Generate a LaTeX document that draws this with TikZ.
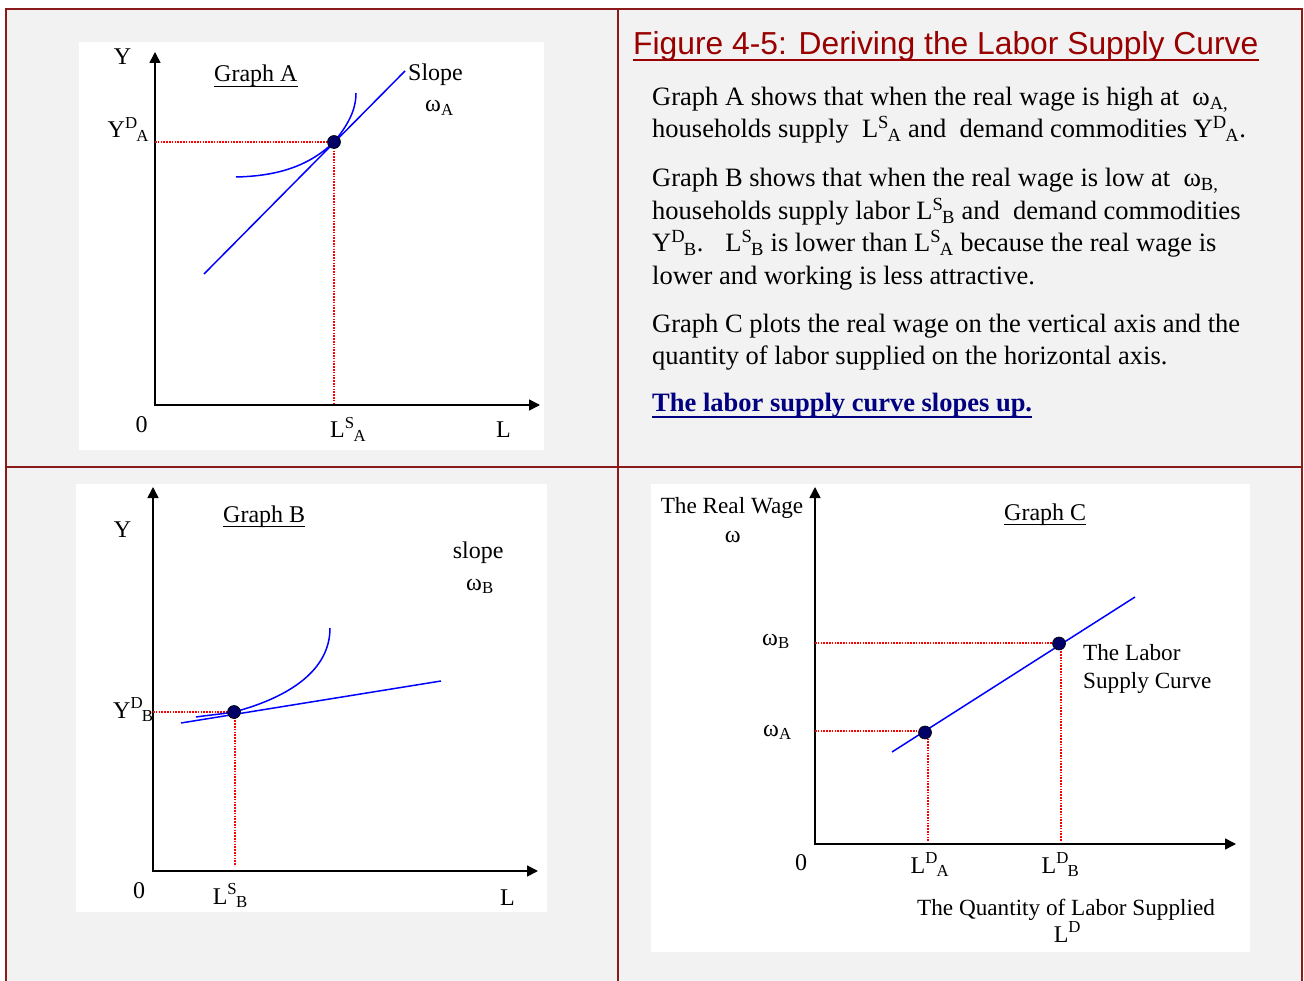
\documentclass[tikz,border=0pt]{standalone}
\usepackage{fontspec}
\setmainfont{Liberation Serif}
\newfontfamily\arialfont{Liberation Sans}
\usetikzlibrary{arrows.meta}
\definecolor{framered}{HTML}{8B1A1A}
\definecolor{panelbg}{HTML}{F2F2F2}
\definecolor{dotfill}{HTML}{000066}
\definecolor{linkblue}{HTML}{000080}
\definecolor{titlered}{HTML}{990000}
\newcommand{\supb}[2]{\textsuperscript{#1}\kern-0.05em\textsubscript{#2}}
\begin{document}
\begin{tikzpicture}[x=1pt,y=-1pt,
  gtxt/.style={font=\fontsize{24}{28}\selectfont, inner sep=0pt, anchor=base west},
  gctr/.style={font=\fontsize{24}{28}\selectfont, inner sep=0pt, anchor=base},
  body/.style={font=\fontsize{26.5}{33}\selectfont, inner sep=0pt, anchor=base west},
  axes/.style={line width=1.6pt, {Triangle[length=11pt,width=11pt]}-{Triangle[length=11pt,width=11pt]}},
  bluecurve/.style={blue, line width=1.5pt},
  guide/.style={red, line width=1.3pt, dash pattern=on 1.6pt off 1.2pt},
  eqpt/.style={circle, draw=black, fill=dotfill, minimum size=13pt, inner sep=0pt, line width=0.6pt},
  uline/.style={line width=0.9pt},
  frameline/.style={framered, line width=2.5pt},
]
\useasboundingbox (0,0) rectangle (1304,981);
\fill[white] (0,0) rectangle (1304,981);
\fill[panelbg] (6,9) rectangle (1302,981);

% ---------- Graph A ----------
\fill[white] (79,42) rectangle (544,450);
\coordinate (Aytip) at (155,52);
\coordinate (Aorig) at (155,405);
\coordinate (Axtip) at (540,405);
\coordinate (AyD) at (155,142);
\coordinate (AxS) at (334,405);
\coordinate (At1) at (204,274);
\coordinate (At2) at (405,71);
\draw[axes] (Aytip) -- (Aorig) -- (Axtip);
\draw[guide] (AyD) -- (334,142) -- (AxS);
\draw[bluecurve] (At1) -- (At2);
\draw[bluecurve] (236,177) .. controls (280,176) and (310,165) .. (334,142)
  .. controls (348,125) and (356,110) .. (356,93);
\node[eqpt] (PA1) at (334,142) {};
\node[gctr] (aY) at (122.5,65) {Y};
\node[gtxt] (aG) at (214,82) {Graph A};
\draw[uline] ([yshift=-4pt]aG.base west) -- ([yshift=-4pt]aG.base east);
\node[gtxt] (aSl) at (408,81) {Slope};
\node[gtxt] (aW) at (425,112) {ω\textsubscript{A}};
\node[gtxt] (aYD) at (107.5,138) {Y\supb{D}{A}};
\node[gctr] (a0) at (141.5,432) {0};
\node[gtxt] (aLS) at (330,438) {L\supb{S}{A}};
\node[gtxt] (aL) at (496,437) {L};

% ---------- Graph B ----------
\fill[white] (76,484) rectangle (547,912);
\coordinate (Bytip) at (153,487);
\coordinate (Borig) at (153,871);
\coordinate (Bxtip) at (538,871);
\coordinate (ByD) at (153,712);
\coordinate (BxS) at (235,866);
\coordinate (Bt1) at (181,723);
\coordinate (Bt2) at (441,681);
\draw[axes] (Bytip) -- (Borig) -- (Bxtip);
\draw[guide] (ByD) -- (234,712);
\draw[guide] (235,712) -- (BxS);
\draw[bluecurve] (Bt1) -- (Bt2);
\draw[bluecurve] (196,717) .. controls (210,715) and (222,714) .. (234,712)
  .. controls (290,697) and (330,670) .. (330,628);
\node[eqpt] (PB1) at (234,712) {};
\node[gctr] (bY) at (122.5,537) {Y};
\node[gtxt] (bG) at (223,522) {Graph B};
\draw[uline] ([yshift=-4pt]bG.base west) -- ([yshift=-4pt]bG.base east);
\node[gtxt] (bSl) at (452.6,558) {slope};
\node[gtxt] (bW) at (466,590) {ω\textsubscript{B}};
\node[gtxt] (bYD) at (113,718) {Y\supb{D}{B}};
\node[gctr] (b0) at (139,898) {0};
\node[gtxt] (bLS) at (212.6,904) {L\supb{S}{B}};
\node[gtxt] (bL) at (500,905) {L};

% ---------- Graph C ----------
\fill[white] (651,484) rectangle (1250,952);
\coordinate (Cytip) at (815,487);
\coordinate (Corig) at (815,844);
\coordinate (Cxtip) at (1236,844);
\coordinate (CyB) at (815,643);
\coordinate (CyA) at (815,731);
\coordinate (CxA) at (928,841);
\coordinate (CxB) at (1061,841);
\coordinate (Cs1) at (892,752);
\coordinate (Cs2) at (1135,597);
\draw[axes] (Cytip) -- (Corig) -- (Cxtip);
\draw[guide] (CyB) -- (1059,643);
\draw[guide] (1061,643) -- (CxB);
\draw[guide] (CyA) -- (925,731);
\draw[guide] (928,733) -- (CxA);
\draw[bluecurve] (Cs1) -- (Cs2);
\node[eqpt] (PCA) at (925,732.5) {};
\node[eqpt] (PCB) at (1059,643.5) {};
\node[gtxt, font=\fontsize{23.2}{28}\selectfont] (cRW) at (660.6,513) {The Real Wage};
\node[gctr] (cW) at (732.7,542) {ω};
\node[gtxt] (cG) at (1004,520) {Graph C};
\draw[uline] ([yshift=-4pt]cG.base west) -- ([yshift=-4pt]cG.base east);
\node[gtxt] (cWB) at (762,645) {ω\textsubscript{B}};
\node[gtxt] (cWA) at (763,736) {ω\textsubscript{A}};
\node[gtxt, font=\fontsize{23.2}{28}\selectfont] (cLab1) at (1083,660) {The Labor};
\node[gtxt, font=\fontsize{23.2}{28}\selectfont] (cLab2) at (1083,688) {Supply Curve};
\node[gctr] (c0) at (801,870) {0};
\node[gtxt] (cLDA) at (910.4,873) {L\supb{D}{A}};
\node[gtxt] (cLDB) at (1041.4,873) {L\supb{D}{B}};
\node[gtxt, font=\fontsize{23.2}{28}\selectfont] (cQ) at (917,915) {The Quantity of Labor Supplied};
\node[gtxt] (cLD) at (1053.6,942) {L\textsuperscript{D}};

% ---------- Text panel ----------
\node[anchor=base west, inner sep=0pt, font=\arialfont\fontsize{31.8}{36}\selectfont, text=titlered] (title) at (633,55) {Figure 4-5: Deriving the Labor Supply Curve};
\draw[titlered, line width=1.6pt] ([yshift=-5pt]title.base west) -- ([yshift=-5pt]title.base east);
\node[body] (t1) at (652,106) {Graph A shows that when the real wage is high at \ ω\textsubscript{A,}};
\node[body] (t2) at (652,138) {households supply \ L\supb{S}{A} and \ demand commodities Y\supb{D}{A}.};
\node[body] (t3) at (652,187) {Graph B shows that when the real wage is low at \ ω\textsubscript{B,}};
\node[body] (t4) at (652,220) {households supply labor L\supb{S}{B} and \ demand commodities};
\node[body] (t5) at (652,252) {Y\supb{D}{B}. \ \ L\supb{S}{B} is lower than L\supb{S}{A} because the real wage is};
\node[body] (t6) at (652,285) {lower and working is less attractive.};
\node[body] (t7) at (652,333) {Graph C plots the real wage on the vertical axis and the};
\node[body] (t8) at (652,365) {quantity of labor supplied on the horizontal axis.};
\node[body, text=linkblue, font=\fontsize{26.5}{33}\selectfont\bfseries] (link) at (652,412) {The labor supply curve slopes up.};
\draw[linkblue, line width=1.6pt] ([yshift=-5pt]link.base west) -- ([yshift=-5pt]link.base east);

% ---------- Frame ----------
\draw[frameline] (6,981) -- (6,9) -- (1302,9) -- (1302,981);
\draw[frameline] (6,467) -- (1302,467);
\draw[frameline] (618,9) -- (618,981);
\end{tikzpicture}
\end{document}
